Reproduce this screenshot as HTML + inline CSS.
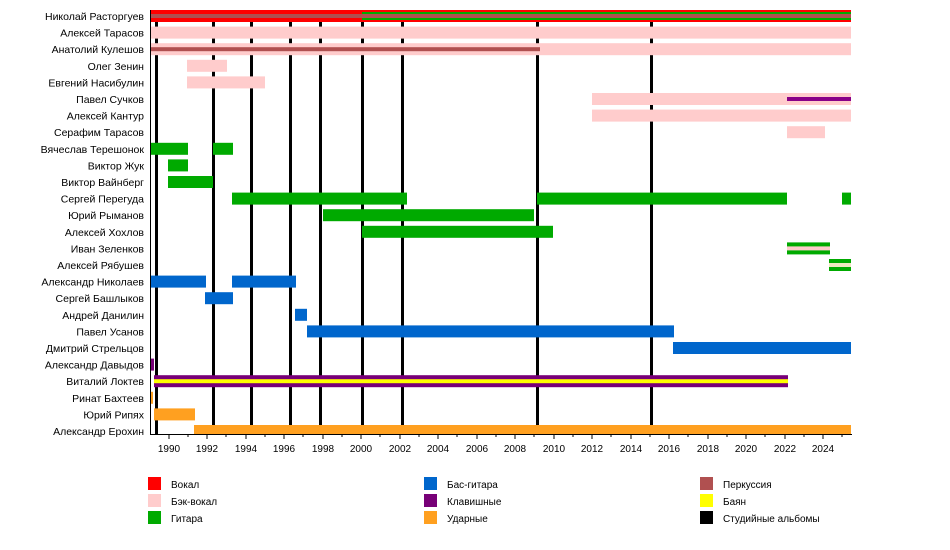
<!DOCTYPE html>
<html><head><meta charset="utf-8"><style>
body{margin:0;background:#fff}
text{font-family:"Liberation Sans",Arial,sans-serif;font-size:10px;fill:#000}
.lab text{font-size:10.5px}
</style></head><body>
<svg width="950" height="545" xmlns="http://www.w3.org/2000/svg">
<g fill="#000">
<rect x="155" y="10" width="3" height="424"/>
<rect x="212" y="10" width="3" height="424"/>
<rect x="250" y="10" width="3" height="424"/>
<rect x="289" y="10" width="3" height="424"/>
<rect x="319" y="10" width="3" height="424"/>
<rect x="361" y="10" width="3" height="424"/>
<rect x="401" y="10" width="3" height="424"/>
<rect x="536" y="10" width="3" height="424"/>
<rect x="650" y="10" width="3" height="424"/>
</g>
<g>
<rect x="151" y="10" width="700" height="12" fill="#FF0000"/>
<rect x="362" y="12" width="489" height="8" fill="#00AA00"/>
<rect x="151" y="14" width="700" height="4" fill="#B05050"/>
<rect x="151" y="26.6" width="700" height="12" fill="#FFCCCC"/>
<rect x="151" y="43.2" width="700" height="12" fill="#FFCCCC"/>
<rect x="151" y="47.2" width="389" height="4" fill="#B05050"/>
<rect x="187" y="59.8" width="40" height="12" fill="#FFCCCC"/>
<rect x="187" y="76.4" width="78" height="12" fill="#FFCCCC"/>
<rect x="592" y="93" width="259" height="12" fill="#FFCCCC"/>
<rect x="787" y="97" width="64" height="4" fill="#880088"/>
<rect x="592" y="109.6" width="259" height="12" fill="#FFCCCC"/>
<rect x="787" y="126.2" width="38" height="12" fill="#FFCCCC"/>
<rect x="151" y="142.8" width="37" height="12" fill="#00AA00"/>
<rect x="213" y="142.8" width="20" height="12" fill="#00AA00"/>
<rect x="168" y="159.4" width="20" height="12" fill="#00AA00"/>
<rect x="168" y="176" width="45" height="12" fill="#00AA00"/>
<rect x="232" y="192.6" width="175" height="12" fill="#00AA00"/>
<rect x="537" y="192.6" width="250" height="12" fill="#00AA00"/>
<rect x="842" y="192.6" width="9" height="12" fill="#00AA00"/>
<rect x="323" y="209.2" width="211" height="12" fill="#00AA00"/>
<rect x="362" y="225.8" width="191" height="12" fill="#00AA00"/>
<rect x="787" y="242.4" width="43" height="12" fill="#00AA00"/>
<rect x="787" y="246.4" width="43" height="4" fill="#FFCCCC"/>
<rect x="829" y="259" width="22" height="12" fill="#00AA00"/>
<rect x="829" y="263" width="22" height="4" fill="#F0E8C0"/>
<rect x="151" y="275.6" width="55" height="12" fill="#0066CC"/>
<rect x="232" y="275.6" width="64" height="12" fill="#0066CC"/>
<rect x="205" y="292.2" width="28" height="12" fill="#0066CC"/>
<rect x="295" y="308.8" width="12" height="12" fill="#0066CC"/>
<rect x="307" y="325.4" width="367" height="12" fill="#0066CC"/>
<rect x="673" y="342" width="178" height="12" fill="#0066CC"/>
<rect x="151" y="358.6" width="3" height="12" fill="#770077"/>
<rect x="154" y="375.2" width="634" height="12" fill="#770077"/>
<rect x="154" y="379.2" width="634" height="4" fill="#FFFF00"/>
<rect x="151" y="391.8" width="2" height="12" fill="#FFA020"/>
<rect x="154" y="408.4" width="41" height="12" fill="#FFA020"/>
<rect x="194" y="425" width="657" height="9" fill="#FFA020"/>
</g>
<rect x="150" y="10" width="1" height="425" fill="#000"/>
<rect x="150" y="434" width="702" height="1" fill="#000"/>
<g font-size="10" text-anchor="middle">
<text x="169" y="452">1990</text><text x="207" y="452">1992</text><text x="246" y="452">1994</text>
<text x="284" y="452">1996</text><text x="323" y="452">1998</text><text x="361" y="452">2000</text>
<text x="400" y="452">2002</text><text x="438" y="452">2004</text><text x="477" y="452">2006</text>
<text x="515" y="452">2008</text><text x="554" y="452">2010</text><text x="592" y="452">2012</text>
<text x="631" y="452">2014</text><text x="669" y="452">2016</text><text x="708" y="452">2018</text>
<text x="746" y="452">2020</text><text x="785" y="452">2022</text><text x="823" y="452">2024</text>
</g>
<g stroke="#000" stroke-width="1">
<path d="M169 434v5M188 434v3M207 434v5M226 434v3M246 434v5M265 434v3M284 434v5M303 434v3M323 434v5M342 434v3M361 434v5M380 434v3M400 434v5M419 434v3M438 434v5M457 434v3M477 434v5M496 434v3M515 434v5M534 434v3M554 434v5M573 434v3M592 434v5M611 434v3M631 434v5M650 434v3M669 434v5M688 434v3M708 434v5M727 434v3M746 434v5M765 434v3M785 434v5M804 434v3M823 434v5M842 434v3"/>
</g>
<g text-anchor="end" class="lab">
<text x="144" y="20">Николай Расторгуев</text>
<text x="144" y="36.6">Алексей Тарасов</text>
<text x="144" y="53.2">Анатолий Кулешов</text>
<text x="144" y="69.8">Олег Зенин</text>
<text x="144" y="86.4">Евгений Насибулин</text>
<text x="144" y="103">Павел Сучков</text>
<text x="144" y="119.6">Алексей Кантур</text>
<text x="144" y="136.2">Серафим Тарасов</text>
<text x="144" y="152.8">Вячеслав Терешонок</text>
<text x="144" y="169.4">Виктор Жук</text>
<text x="144" y="186">Виктор Вайнберг</text>
<text x="144" y="202.6">Сергей Перегуда</text>
<text x="144" y="219.2">Юрий Рыманов</text>
<text x="144" y="235.8">Алексей Хохлов</text>
<text x="144" y="252.4">Иван Зеленков</text>
<text x="144" y="269">Алексей Рябушев</text>
<text x="144" y="285.6">Александр Николаев</text>
<text x="144" y="302.2">Сергей Башлыков</text>
<text x="144" y="318.8">Андрей Данилин</text>
<text x="144" y="335.4">Павел Усанов</text>
<text x="144" y="352">Дмитрий Стрельцов</text>
<text x="144" y="368.6">Александр Давыдов</text>
<text x="144" y="385.2">Виталий Локтев</text>
<text x="144" y="401.8">Ринат Бахтеев</text>
<text x="144" y="418.4">Юрий Рипях</text>
<text x="144" y="435">Александр Ерохин</text>
</g>
<rect x="148" y="477" width="13" height="13" fill="#FF0000"/><text x="171" y="488">Вокал</text>
<rect x="148" y="494" width="13" height="13" fill="#FFCCCC"/><text x="171" y="505">Бэк-вокал</text>
<rect x="148" y="511" width="13" height="13" fill="#00AA00"/><text x="171" y="522">Гитара</text>
<rect x="424" y="477" width="13" height="13" fill="#0066CC"/><text x="447" y="488">Бас-гитара</text>
<rect x="424" y="494" width="13" height="13" fill="#770077"/><text x="447" y="505">Клавишные</text>
<rect x="424" y="511" width="13" height="13" fill="#FFA020"/><text x="447" y="522">Ударные</text>
<rect x="700" y="477" width="13" height="13" fill="#B05050"/><text x="723" y="488">Перкуссия</text>
<rect x="700" y="494" width="13" height="13" fill="#FFFF00"/><text x="723" y="505">Баян</text>
<rect x="700" y="511" width="13" height="13" fill="#000000"/><text x="723" y="522">Студийные альбомы</text>
</svg>
</body></html>
